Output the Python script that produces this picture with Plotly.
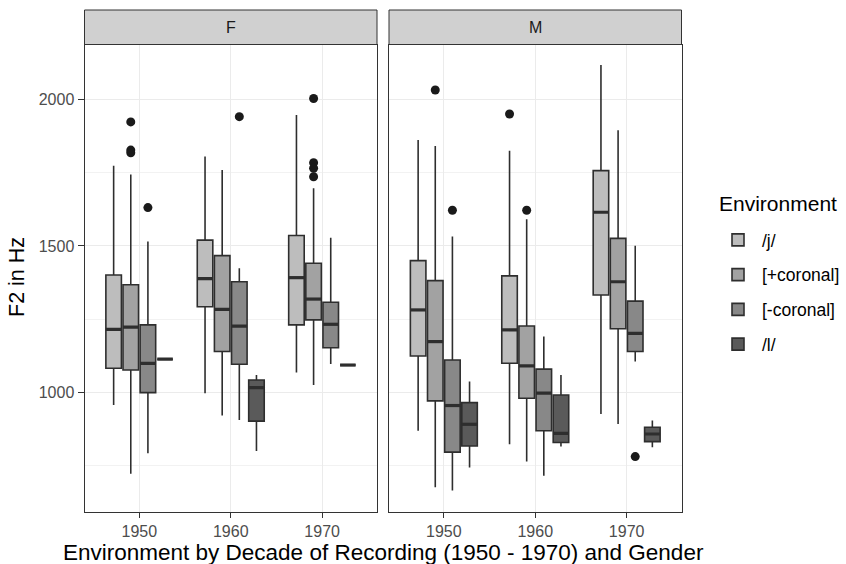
import plotly.graph_objects as go

decades = ["1950", "1960", "1970"]
environments = ["/j/", "[+coronal]", "[-coronal]", "/l/"]
fills = ["#BDBDBD", "#A2A2A2", "#888888", "#5A5A5A"]

# stats per gender -> environment -> [per decade]
F_stats = {
    "/j/":        dict(lo=[958, 998, 1069],  q1=[1083, 1293, 1231], med=[1216, 1389, 1392], q3=[1401, 1520, 1536], hi=[1774, 1805, 1947]),
    "[+coronal]": dict(lo=[723, 922, 1026],  q1=[1077, 1140, 1248], med=[1223, 1284, 1319], q3=[1368, 1467, 1441], hi=[1744, 1759, 1697]),
    "[-coronal]": dict(lo=[793, 907, 1098],  q1=[1000, 1097, 1153], med=[1100, 1227, 1233], q3=[1231, 1378, 1308], hi=[1515, 1424, 1528]),
    "/l/":        dict(lo=[1114, 801, 1094], q1=[1114, 903, 1094],  med=[1114, 1017, 1094], q3=[1114, 1043, 1094], hi=[1114, 1060, 1094]),
}
M_stats = {
    "/j/":        dict(lo=[870, 824, 927],   q1=[1125, 1100, 1333], med=[1282, 1214, 1615], q3=[1450, 1398, 1757], hi=[1861, 1825, 2117]),
    "[+coronal]": dict(lo=[677, 765, 893],   q1=[972, 981, 1218],   med=[1174, 1091, 1378], q3=[1382, 1227, 1526], hi=[1841, 1591, 1895]),
    "[-coronal]": dict(lo=[666, 717, 1106],  q1=[797, 870, 1140],   med=[956, 998, 1202],   q3=[1111, 1080, 1312], hi=[1532, 1191, 1501]),
    "/l/":        dict(lo=[745, 816, 814],   q1=[818, 830, 833],    med=[892, 861, 859],    q3=[966, 992, 882],    hi=[1038, 1060, 905]),
}
# outliers: (environment, decade index, value)
F_outliers = [("[+coronal]", 0, 1923), ("[+coronal]", 0, 1827), ("[+coronal]", 0, 1818),
              ("[-coronal]", 0, 1631), ("[-coronal]", 1, 1941),
              ("[+coronal]", 2, 2003), ("[+coronal]", 2, 1784), ("[+coronal]", 2, 1765), ("[+coronal]", 2, 1736)]
M_outliers = [("[+coronal]", 0, 2032), ("[-coronal]", 0, 1622),
              ("/j/", 1, 1950), ("[+coronal]", 1, 1622),
              ("[-coronal]", 2, 782)]

offsets = [-0.28125, -0.09375, 0.09375, 0.28125]
box_w = 0.17
line_col = "#2E2E2E"
FONT = "Liberation Sans, Arial, sans-serif"

fig = go.Figure()

panels = [("F", F_stats, F_outliers, "x", "y"), ("M", M_stats, M_outliers, "x2", "y2")]
for pi, (g, stats, outs, xa, ya) in enumerate(panels):
    for ei, env in enumerate(environments):
        s = stats[env]
        xs = [i + 1 + offsets[ei] for i in range(len(decades))]
        fig.add_trace(go.Box(
            x=xs, q1=s["q1"], median=s["med"], q3=s["q3"],
            lowerfence=s["lo"], upperfence=s["hi"],
            width=box_w, whiskerwidth=0,
            fillcolor=fills[ei], line=dict(color=line_col, width=1.6),
            name=env, legendgroup=env, showlegend=(pi == 0),
            boxpoints=False, xaxis=xa, yaxis=ya, hoverinfo="skip",
        ))
        # fattened median lines
        mx, my = [], []
        for i, x0 in enumerate(xs):
            mx += [x0 - box_w / 2, x0 + box_w / 2, None]
            my += [s["med"][i], s["med"][i], None]
        fig.add_trace(go.Scatter(x=mx, y=my, mode="lines", line=dict(color=line_col, width=3.2),
                                 showlegend=False, xaxis=xa, yaxis=ya, hoverinfo="skip"))
    fig.add_trace(go.Scatter(
        x=[d + 1 + offsets[environments.index(e)] for e, d, _ in outs],
        y=[v for _, _, v in outs], mode="markers",
        marker=dict(color="#1A1A1A", size=9), showlegend=False,
        xaxis=xa, yaxis=ya, hoverinfo="skip"))

W, H = 846, 564
top_px, bot_px = 44.5, 511.7
ydom = [1 - bot_px / H, 1 - top_px / H]
xdomF = [84.5 / W, 377 / W]
xdomM = [389 / W, 681.5 / W]
yrange = [594, 2187]

xcommon = dict(range=[0.4, 3.6], tickvals=[1, 2, 3], ticktext=decades,
               showgrid=True, gridcolor="#EBEBEB", gridwidth=1.1,
               showline=True, linecolor="#333333", linewidth=1, mirror=True,
               ticks="outside", ticklen=5, tickcolor="#333333", tickwidth=1,
               tickfont=dict(family=FONT, size=16, color="#4D4D4D"),
               zeroline=False, fixedrange=True)
ycommon = dict(domain=ydom, range=yrange, tickvals=[1000, 1500, 2000],
               showgrid=True, gridcolor="#EBEBEB", gridwidth=1.1,
               minor=dict(tickvals=[750, 1250, 1750], showgrid=True, gridcolor="#F2F2F2", gridwidth=0.6, ticks=""),
               showline=True, linecolor="#333333", linewidth=1, mirror=True,
               zeroline=False, fixedrange=True)
fig.update_layout(
    width=W, height=H, margin=dict(l=0, r=0, t=0, b=0),
    paper_bgcolor="white", plot_bgcolor="white",
    boxmode="overlay",
    xaxis=dict(domain=xdomF, anchor="y", **xcommon),
    xaxis2=dict(domain=xdomM, anchor="y2", **xcommon),
    yaxis=dict(anchor="x", ticks="outside", ticklen=6, tickcolor="#333333",
               tickfont=dict(family=FONT, size=16, color="#4D4D4D"), **ycommon),
    yaxis2=dict(anchor="x2", showticklabels=False, ticks="", **ycommon),
    legend=dict(x=714 / W, y=1 - 222 / H, xanchor="left", yanchor="top",
                font=dict(family=FONT, size=17.5, color="#000000"),
                itemwidth=38, tracegroupgap=9, bgcolor="rgba(0,0,0,0)"),
    font=dict(family=FONT),
)

# strips
strip_top = 1 - 10 / H
for label, dom in [("F", xdomF), ("M", xdomM)]:
    fig.add_shape(type="rect", xref="paper", yref="paper", x0=dom[0], x1=dom[1],
                  y0=ydom[1], y1=strip_top, fillcolor="#D0D0D0",
                  line=dict(color="#333333", width=1), layer="below")
    fig.add_annotation(text=label, xref="paper", yref="paper", x=(dom[0] + dom[1]) / 2,
                       y=(ydom[1] + strip_top) / 2, xanchor="center", yanchor="middle", showarrow=False,
                       font=dict(family=FONT, size=16, color="#1A1A1A"))

fig.add_annotation(text="F2 in Hz", xref="paper", yref="paper", x=17 / W, y=1 - 277 / H,
                   xanchor="center", yanchor="middle", textangle=-90, showarrow=False,
                   font=dict(family=FONT, size=21.5, color="#000000"))
fig.add_annotation(text="Environment by Decade of Recording (1950 - 1970) and Gender",
                   xref="paper", yref="paper", x=383 / W, y=1 - 552 / H,
                   xanchor="center", yanchor="middle", showarrow=False,
                   font=dict(family=FONT, size=22.5, color="#000000"))
fig.add_annotation(text="Environment", xref="paper", yref="paper", x=717 / W, y=1 - 203 / H,
                   xanchor="left", yanchor="middle", showarrow=False,
                   font=dict(family=FONT, size=21, color="#000000"))

fig.write_html("out.html")
